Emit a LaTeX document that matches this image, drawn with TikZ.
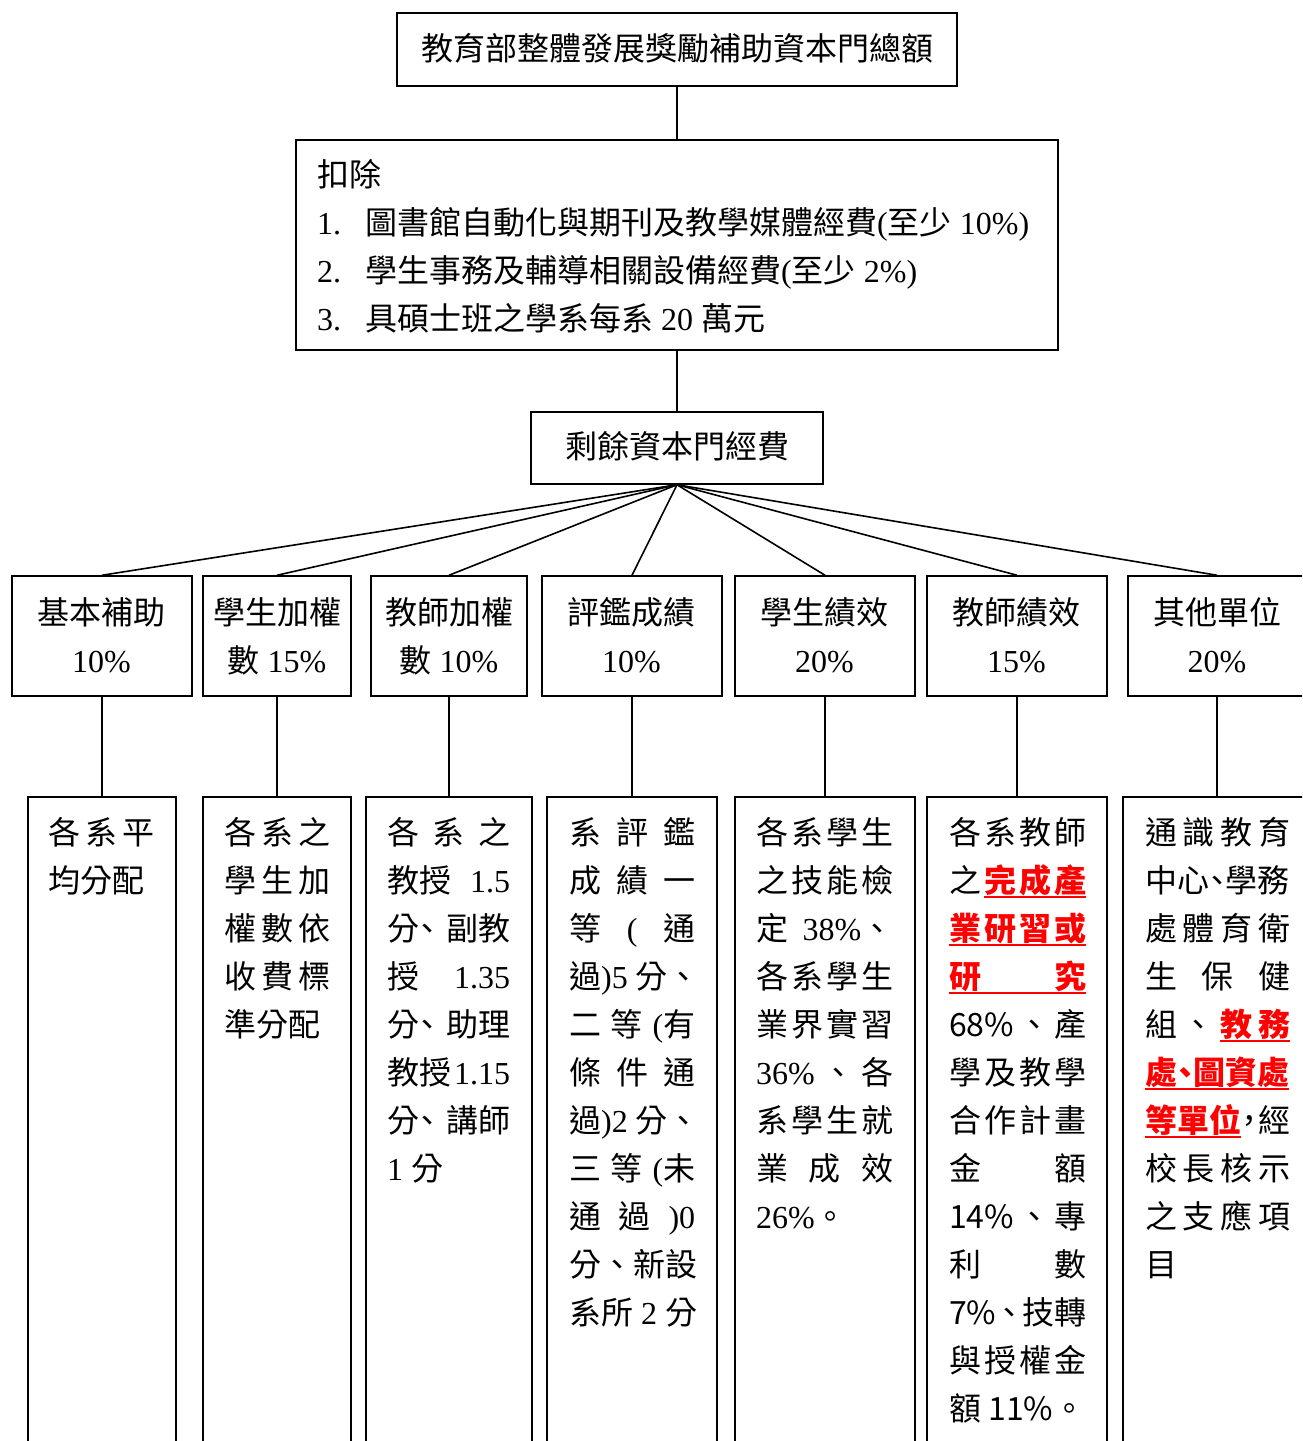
\documentclass[tikz,border=0pt]{standalone}
\usepackage{fontspec}
\setmainfont{Noto Sans CJK TC}
\newfontfamily\tm{Liberation Serif}
\newcommand\hw[1]{\makebox[16pt][c]{#1}}
\newcommand\rbu[1]{{\color{red}\bfseries\setbox0\hbox{#1}\rlap{\rule[-6pt]{\wd0}{1.8pt}}\box0}}
\tikzset{
  box/.style={draw, line width=1.5pt, inner sep=0pt, fill=white},
  conn/.style={line width=1.6pt},
  txt/.style={anchor=base west, inner sep=0pt, font=\fontsize{32}{48}\selectfont},
  ctxt/.style={anchor=base, inner sep=0pt, font=\fontsize{32}{48}\selectfont},
}
\begin{document}
\begin{tikzpicture}[x=1pt,y=-1pt]
\useasboundingbox (0,0) rectangle (1302,1441);
\clip (0,0) rectangle (1302,1441);
\fill[white] (0,0) rectangle (1302,1441);

% boxes
\node[box, minimum width=560pt, minimum height=73pt] (top) at (677,49.5) {};
\node[box, minimum width=762pt, minimum height=210pt] (ded) at (677,245) {};
\node[box, minimum width=292pt, minimum height=72pt] (rem) at (677,448) {};

\node[box, minimum width=180pt, minimum height=120pt] (a2) at (102,636) {};
\node[box, minimum width=148pt, minimum height=120pt] (b2) at (277,636) {};
\node[box, minimum width=156pt, minimum height=120pt] (c2) at (449,636) {};
\node[box, minimum width=180pt, minimum height=120pt] (d2) at (632,636) {};
\node[box, minimum width=180pt, minimum height=120pt] (e2) at (825,636) {};
\node[box, minimum width=180pt, minimum height=120pt] (f2) at (1017,636) {};
\node[box, minimum width=178pt, minimum height=120pt] (g2) at (1217,636) {};

\node[box, minimum width=148pt, minimum height=673pt] (a3) at (102,1133.5) {};
\node[box, minimum width=148pt, minimum height=673pt] (b3) at (277,1133.5) {};
\node[box, minimum width=166pt, minimum height=673pt] (c3) at (449,1133.5) {};
\node[box, minimum width=170pt, minimum height=673pt] (d3) at (632,1133.5) {};
\node[box, minimum width=180pt, minimum height=673pt] (e3) at (825,1133.5) {};
\node[box, minimum width=180pt, minimum height=673pt] (f3) at (1017,1133.5) {};
\node[box, minimum width=188pt, minimum height=673pt] (g3) at (1217,1133.5) {};

% connectors
\draw[conn] (top.south) -- (ded.north);
\draw[conn] (ded.south) -- (rem.north);
\foreach \n in {a,b,c,d,e,f,g}{
  \draw[conn] (rem.south) -- (\n2.north);
  \draw[conn] (\n2.south) -- (\n3.north);
}

% texts
\node[ctxt] (ttop) at (677,60) {教育部整體發展獎勵補助資本門總額};
\node[txt] (d0) at (317,186) {扣除};
\node[txt] (d1n) at (317,234) {\tm 1.};
\node[txt] (d1) at (365,234) {圖書館自動化與期刊及教學媒體經費{\tm(}至少{\tm\ 10\%)}};
\node[txt] (d2n) at (317,282) {\tm 2.};
\node[txt] (d2) at (365,282) {學生事務及輔導相關設備經費{\tm(}至少{\tm\ 2\%)}};
\node[txt] (d3n) at (317,330) {\tm 3.};
\node[txt] (d3) at (365,330) {具碩士班之學系每系{\tm\ 20\ }萬元};
\node[ctxt] (trem) at (677,458) {剩餘資本門經費};

\node[ctxt] (a2t1) at (101.5,624) {基本補助};
\node[ctxt] (a2t2) at (101.5,672) {\tm 10\%};
\node[ctxt] (b2t1) at (277,624) {學生加權};
\node[ctxt] (b2t2) at (277,672) {數{\tm\ 15\%}};
\node[ctxt] (c2t1) at (449,624) {教師加權};
\node[ctxt] (c2t2) at (449,672) {數{\tm\ 10\%}};
\node[ctxt] (d2t1) at (631.5,624) {評鑑成績};
\node[ctxt] (d2t2) at (631.5,672) {\tm 10\%};
\node[ctxt] (e2t1) at (824.5,624) {學生績效};
\node[ctxt] (e2t2) at (824.5,672) {\tm 20\%};
\node[ctxt] (f2t1) at (1016.5,624) {教師績效};
\node[ctxt] (f2t2) at (1016.5,672) {\tm 15\%};
\node[ctxt] (g2t1) at (1217,624) {其他單位};
\node[ctxt] (g2t2) at (1217,672) {\tm 20\%};

% column texts
\foreach \t [count=\i from 0] in {
  {各\hfill 系\hfill 平},{均分配}}
  {\node[txt] (a3l\i) at (48,{844+48*\i}) {\makebox[106pt][l]{\t}};}

\foreach \t [count=\i from 0] in {
  {各\hfill 系\hfill 之},{學\hfill 生\hfill 加},{權\hfill 數\hfill 依},{收\hfill 費\hfill 標},{準分配}}
  {\node[txt] (b3l\i) at (224,{844+48*\i}) {\makebox[106pt][l]{\t}};}

\foreach \t [count=\i from 0] in {
  {各\hfill 系\hfill 之},{教授\hfill{\tm 1.5}},{分\hw{、}\hfill 副教},{授\hfill{\tm 1.35}},
  {分\hw{、}\hfill 助理},{教授\hfill{\tm 1.15}},{分\hw{、}\hfill 講師},{{\tm 1\ }分}}
  {\node[txt] (c3l\i) at (387,{844+48*\i}) {\makebox[123pt][l]{\t}};}

\foreach \t [count=\i from 0] in {
  {系\hfill 評\hfill 鑑},{成\hfill 績\hfill 一},{等\hfill{\tm(}\hfill 通},{過{\tm)5\ }分、},
  {二\hfill 等\hfill{\tm(}有},{條\hfill 件\hfill 通},{過{\tm)2\ }分、},{三\hfill 等\hfill{\tm(}未},
  {通\hfill 過\hfill{\tm)0}},{分、新設},{系所{\tm\ 2\ }分}}
  {\node[txt] (d3l\i) at (569,{844+48*\i}) {\makebox[126pt][l]{\t}};}

\foreach \t [count=\i from 0] in {
  {各\hfill 系\hfill 學\hfill 生},{之\hfill 技\hfill 能\hfill 檢},{定\hfill{\tm 38\%}、},
  {各\hfill 系\hfill 學\hfill 生},{業\hfill 界\hfill 實\hfill 習},{{\tm 36\%}\hfill 、\hfill 各},
  {系\hfill 學\hfill 生\hfill 就},{業\hfill 成\hfill 效},{{\tm 26\%}。}}
  {\node[txt] (e3l\i) at (756,{844+48*\i}) {\makebox[137pt][l]{\t}};}

\foreach \t [count=\i from 0] in {
  {各\hfill 系\hfill 教\hfill 師},{之\hfill\rbu{\makebox[102pt]{完\hfill 成\hfill 產}}},{\rbu{\makebox[137pt]{業\hfill 研\hfill 習\hfill 或}}},
  {\rbu{\makebox[137pt]{研\hfill 究}}},{68\%\hfill 、\hfill 產},{學\hfill 及\hfill 教\hfill 學},
  {合\hfill 作\hfill 計\hfill 畫},{金\hfill 額},{14\%\hfill 、\hfill 專},{利\hfill 數},
  {7\%\hfill\hw{、}\hfill 技轉},{與\hfill 授\hfill 權\hfill 金},{額 11\%。}}
  {\node[txt] (f3l\i) at (949,{844+48*\i}) {\makebox[137pt][l]{\t}};}

\foreach \t [count=\i from 0] in {
  {通\hfill 識\hfill 教\hfill 育},{中心\hw{、}學務},{處\hfill 體\hfill 育\hfill 衛},{生\hfill 保\hfill 健},
  {組\hfill 、\hfill\rbu{\makebox[70pt]{教\hfill 務}}},{\rbu{處\hw{、}圖資處}},{\rbu{等單位}\hw{，}\hfill 經},
  {校\hfill 長\hfill 核\hfill 示},{之\hfill 支\hfill 應\hfill 項},{目}}
  {\node[txt] (g3l\i) at (1145,{844+48*\i}) {\makebox[145pt][l]{\t}};}
\end{tikzpicture}
\end{document}
